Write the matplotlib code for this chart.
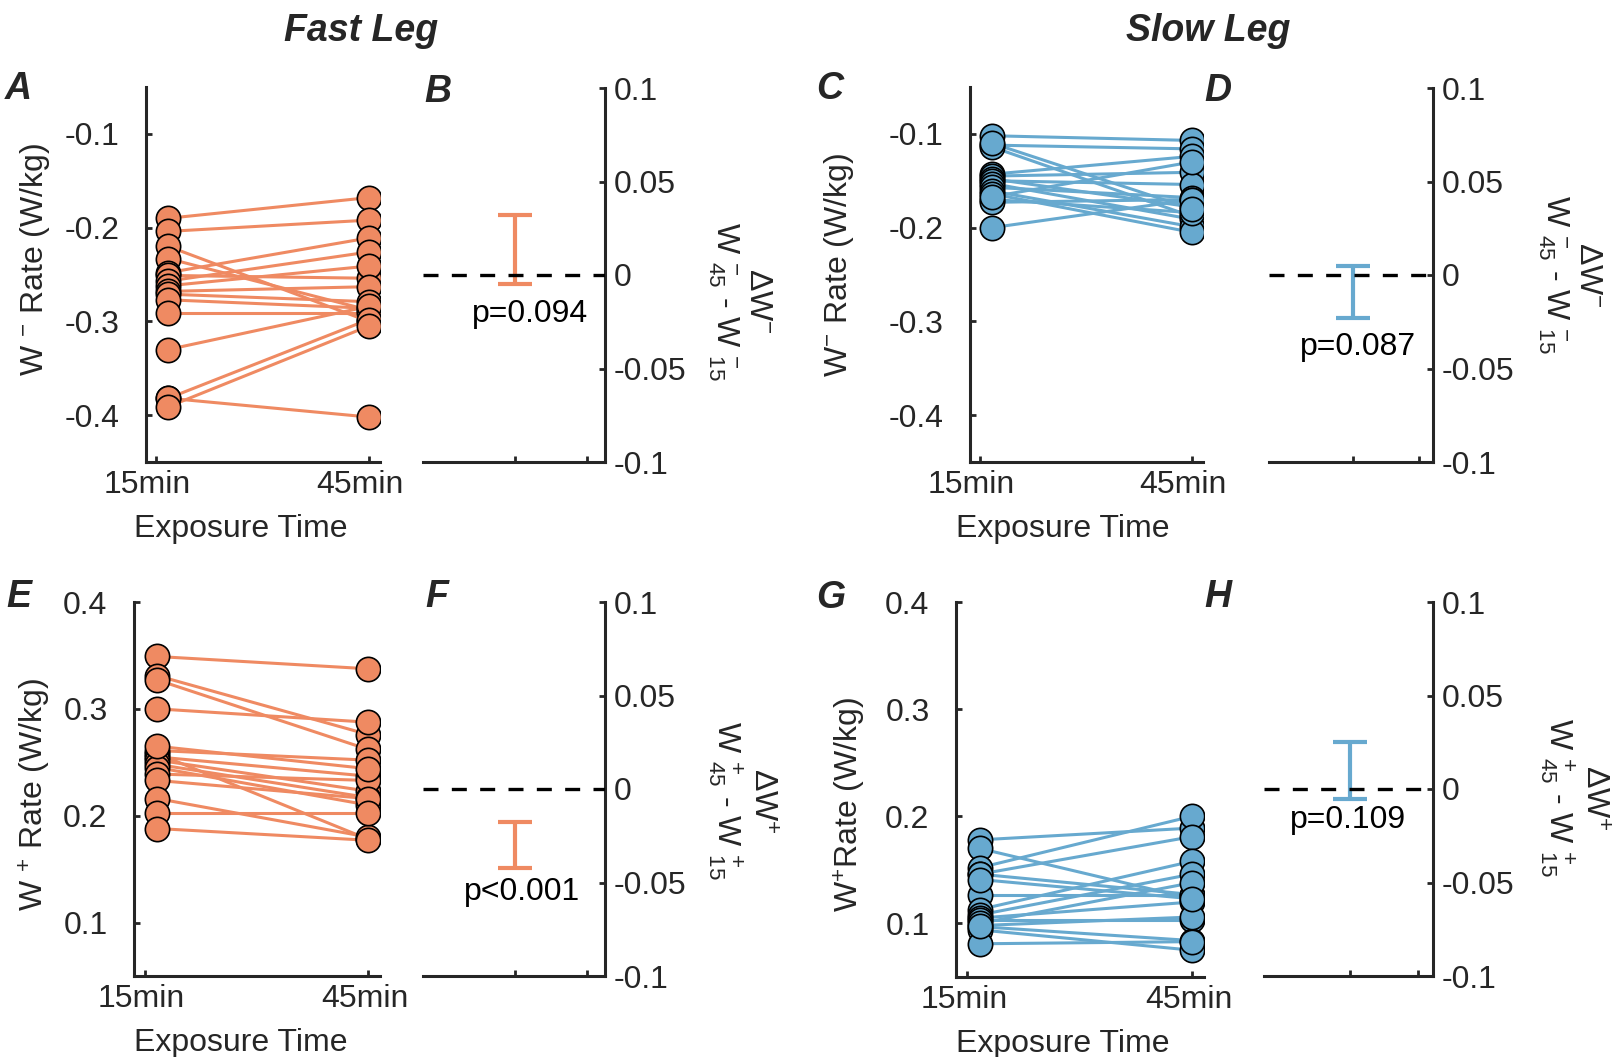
import matplotlib
matplotlib.use("Agg")
from matplotlib import pyplot as plt
from matplotlib.transforms import ScaledTranslation

W, H = 1619, 1057
orange = "#EF8A62"
blue = "#67A9CF"
dark = "#262626"

# W- rate (W/kg), fast leg, one value per subject
fast_neg_15 = [-0.190, -0.204, -0.220, -0.233, -0.248, -0.251, -0.257, -0.262,
               -0.268, -0.271, -0.277, -0.291, -0.330, -0.382, -0.382, -0.391]
fast_neg_45 = [-0.168, -0.192, -0.300, -0.288, -0.211, -0.254, -0.226, -0.241,
               -0.263, -0.279, -0.286, -0.291, -0.284, -0.298, -0.402, -0.305]
# W- rate (W/kg), slow leg
slow_neg_15 = [-0.102, -0.112, -0.114, -0.143, -0.145, -0.148, -0.150, -0.153,
               -0.157, -0.161, -0.164, -0.170, -0.173, -0.200, -0.110, -0.167]
slow_neg_45 = [-0.107, -0.116, -0.188, -0.124, -0.141, -0.178, -0.154, -0.191,
               -0.168, -0.199, -0.205, -0.184, -0.170, -0.170, -0.180, -0.130]
# W+ rate (W/kg), fast leg
fast_pos_15 = [0.349, 0.331, 0.327, 0.300, 0.261, 0.258, 0.255, 0.252,
               0.248, 0.245, 0.239, 0.233, 0.216, 0.203, 0.188, 0.265]
fast_pos_45 = [0.3375, 0.276, 0.262, 0.2875, 0.252, 0.178, 0.237, 0.223,
               0.217, 0.210, 0.233, 0.216, 0.180, 0.203, 0.177, 0.244]
# W+ rate (W/kg), slow leg
slow_pos_15 = [0.178, 0.170, 0.152, 0.146, 0.146, 0.127, 0.113, 0.108,
               0.105, 0.103, 0.100, 0.097, 0.094, 0.081, 0.098, 0.141]
slow_pos_45 = [0.189, 0.123, 0.200, 0.181, 0.127, 0.127, 0.158, 0.146,
               0.120, 0.103, 0.138, 0.084, 0.075, 0.083, 0.106, 0.123]

# 45min - 15min difference: mean and error, panels B, D, F, H
delta_mean = [0.0135, -0.009, -0.030, 0.0098]
delta_err = [0.0185, 0.014, 0.0123, 0.0152]
p_text = ["p=0.094", "p=0.087", "p<0.001", "p=0.109"]

time_labels = ["15min", "45min"]
neg_ticks = [-0.4, -0.3, -0.2, -0.1]
neg_labels = ["-0.4", "-0.3", "-0.2", "-0.1"]
pos_ticks = [0.1, 0.2, 0.3, 0.4]
pos_labels = ["0.1", "0.2", "0.3", "0.4"]
d_ticks = [-0.1, -0.05, 0, 0.05, 0.1]
d_labels = ["-0.1", "-0.05", "0", "0.05", "0.1"]

plt.rcParams["font.family"] = ["Liberation Sans", "DejaVu Sans"]
plt.rcParams["font.size"] = 23
plt.rcParams["axes.unicode_minus"] = False
plt.rcParams["mathtext.fontset"] = "custom"
plt.rcParams["mathtext.rm"] = "Liberation Sans"
plt.rcParams["mathtext.it"] = "Liberation Sans:italic"
plt.rcParams["mathtext.bf"] = "Liberation Sans:bold"


def box(l, r, t, b):
	return [l / W, 1 - b / H, (r - l) / W, (b - t) / H]


def paired(ax, pre, post, color, ylim, yticks, ylabels, ylabel, lab_xy, xlab_x, shift):
	xs = [1.057, 2.0]
	for a, b in zip(pre, post):
		ax.plot(xs, [a, b], color=color, lw=2.2, zorder=2)
	ax.plot([xs[0]] * len(pre), pre, "o", ms=17.5, mfc=color, mec="black", mew=1.2, zorder=3)
	ax.plot([xs[1]] * len(post), post, "o", ms=17.5, mfc=color, mec="black", mew=1.2, zorder=3)
	ax.set_xlim(0.952, 2.053)
	ax.set_ylim(*ylim)
	ax.set_xticks([1, 2])
	ax.set_xticklabels(time_labels)
	ax.set_yticks(yticks)
	ax.set_yticklabels(ylabels)
	for s in ["top", "right"]:
		ax.spines[s].set_visible(False)
	for s in ["left", "bottom"]:
		ax.spines[s].set_color(dark)
		ax.spines[s].set_linewidth(2.2)
	ax.tick_params(direction="in", length=4.5, width=2, colors=dark, labelsize=23)
	ax.tick_params(axis="y", pad=19)
	ax.tick_params(axis="x", pad=6)
	off = ScaledTranslation(shift / 100, 0, fig.dpi_scale_trans)
	for lab in ax.get_xticklabels():
		lab.set_transform(lab.get_transform() + off)
	ax.set_xlabel("Exposure Time", labelpad=10, color=dark)
	ax.xaxis.label.set_x(xlab_x)
	ax.set_ylabel(ylabel, color=dark)
	ax.yaxis.set_label_coords(*lab_xy)


def delta(ax, mean, err, color, ptxt, pxy, rlabel, rxy, bar_x, xt):
	ax.axhline(0, color="black", lw=2.4, ls=(0, (4.5, 4)), zorder=3)
	ax.errorbar([bar_x], [mean], yerr=[err], fmt="none", ecolor=color, elinewidth=3,
		capsize=12.5, capthick=3, zorder=2)
	ax.text(pxy[0], pxy[1], ptxt, ha="center", va="center", color="black")
	ax.set_xlim(0, 1)
	ax.set_ylim(-0.1, 0.1)
	for s in ["top", "left"]:
		ax.spines[s].set_visible(False)
	for s in ["right", "bottom"]:
		ax.spines[s].set_color(dark)
		ax.spines[s].set_linewidth(2.2)
	ax.yaxis.tick_right()
	ax.set_xticks(xt)
	ax.set_xticklabels([])
	ax.set_yticks(d_ticks)
	ax.set_yticklabels(d_labels)
	ax.tick_params(direction="in", length=4.5, width=2, colors=dark, labelsize=23)
	ax.tick_params(axis="y", pad=6)
	ax.text(rxy[0], rxy[1], rlabel, transform=ax.transAxes, rotation=270, ha="center",
		va="center", multialignment="center", color=dark, linespacing=1.1)


fig = plt.figure(figsize=(W / 100, H / 100), dpi=100)

axA = fig.add_axes(box(146, 380, 87, 462))
paired(axA, fast_neg_15, fast_neg_45, orange, (-0.45, -0.05), neg_ticks, neg_labels,
	"W $^{-}$ Rate (W/kg)", (-0.40, 0.54), 0.406, -9)
axC = fig.add_axes(box(970, 1203, 87, 462))
paired(axC, slow_neg_15, slow_neg_45, blue, (-0.45, -0.05), neg_ticks, neg_labels,
	"W$^{-}$ Rate (W/kg)", (-0.49, 0.525), 0.40, -9)
axE = fig.add_axes(box(134, 380, 602, 976))
paired(axE, fast_pos_15, fast_pos_45, orange, (0.05, 0.4), pos_ticks, pos_labels,
	"W $^{+}$ Rate (W/kg)", (-0.33, 0.484), 0.435, -3)
axG = fig.add_axes(box(956, 1204, 602, 977))
paired(axG, slow_pos_15, slow_pos_45, blue, (0.05, 0.4), pos_ticks, pos_labels,
	"W$^{+}$Rate (W/kg)", (-0.355, 0.461), 0.43, -3)

neg_lab = "ΔW$^{-}$\nW $^{-}_{45}$ - W $^{-}_{15}$"
pos_lab = "ΔW$^{+}$\nW $^{+}_{45}$ - W $^{+}_{15}$"

axB = fig.add_axes(box(423, 605, 88, 462))
delta(axB, delta_mean[0], delta_err[0], orange, p_text[0], (0.588, -0.021),
	neg_lab, (1.74, 0.43), 0.505, [0.505, 0.90])
axD = fig.add_axes(box(1269, 1433, 88, 462))
delta(axD, delta_mean[1], delta_err[1], blue, p_text[1], (0.54, -0.0385),
	neg_lab, (1.83, 0.50), 0.512, [0.512, 0.915])
axF = fig.add_axes(box(423, 605, 602, 976))
delta(axF, delta_mean[2], delta_err[2], orange, p_text[2], (0.544, -0.055),
	pos_lab, (1.75, 0.468), 0.505, [0.505, 0.90])
axH = fig.add_axes(box(1264, 1433, 602, 976))
delta(axH, delta_mean[3], delta_err[3], blue, p_text[3], (0.497, -0.0166),
	pos_lab, (1.83, 0.476), 0.509, [0.509, 0.91])

# column titles and panel letters
fig.text(361 / W, 1 - 31 / H, "Fast Leg", ha="center", va="center", fontsize=27,
	fontweight="bold", fontstyle="italic", color=dark)
fig.text(1208 / W, 1 - 31 / H, "Slow Leg", ha="center", va="center", fontsize=27,
	fontweight="bold", fontstyle="italic", color=dark)
letters = [("A", 18, 89), ("B", 438, 92), ("C", 830, 89), ("D", 1218, 91),
	("E", 19, 597), ("F", 437, 597), ("G", 831, 598), ("H", 1218, 597)]
for t, x, y in letters:
	fig.text(x / W, 1 - y / H, t, ha="center", va="center", fontsize=27,
		fontweight="bold", fontstyle="italic", color=dark)

fig.savefig("out.png", dpi=100)
